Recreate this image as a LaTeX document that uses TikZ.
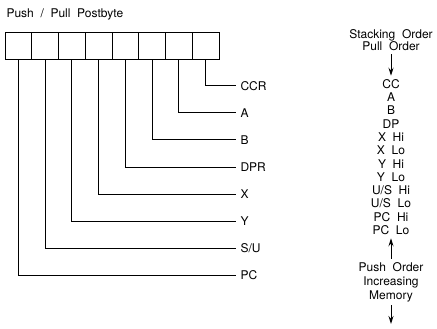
\documentclass[tikz,border=0pt]{standalone}
\usepackage{fontspec}
\setmainfont[WordSpace=2.0]{TeX Gyre Heros}
\usetikzlibrary{arrows.meta}

\begin{document}
\begin{tikzpicture}[
    x=1pt, y=-1pt,
    line width=1pt,
    cell/.style={draw, minimum width=26.75pt, minimum height=27pt, inner sep=0pt},
    reg/.style={anchor=west, inner sep=4pt, font=\fontsize{12}{13}\selectfont},
    col/.style={align=center, inner sep=3pt, font=\fontsize{12}{13.3}\selectfont},
    arr/.style={-{Stealth[length=8pt, width=5pt]}},
]
\useasboundingbox (0,0) rectangle (437,329);

\node[anchor=west, inner sep=0pt, font=\fontsize{12}{13}\selectfont] (title) at (6,14) {Push / Pull Postbyte};

% postbyte cells and their registers
\foreach \lab [count=\i from 0] in {PC,S/U,Y,X,DPR,B,A,CCR} {
    \node[cell] (b\i) at ({5+26.75*(\i+0.5)},46.5) {};
    \node[reg] (r\i) at (236,{86+(7-\i)*27}) {\lab};
    \draw (b\i.south) |- (r\i.west);
}

% stacking order
\node[col, font=\fontsize{12}{12}\selectfont] (hdr) at (391,40) {Stacking Order\\Pull Order};
\node[col] (stack) at (391,157) {CC\\A\\B\\DP\\X Hi\\X Lo\\Y Hi\\Y Lo\\U/S Hi\\U/S Lo\\PC Hi\\PC Lo};
\node[col, font=\fontsize{12}{14}\selectfont] (push) at (391,282) {Push Order\\Increasing\\Memory};
\coordinate (mem) at (391,324);

\draw[arr] (hdr) -- (stack);
\draw[arr] (push) -- (stack);
\draw[arr] (push) -- (mem);
\end{tikzpicture}
\end{document}
